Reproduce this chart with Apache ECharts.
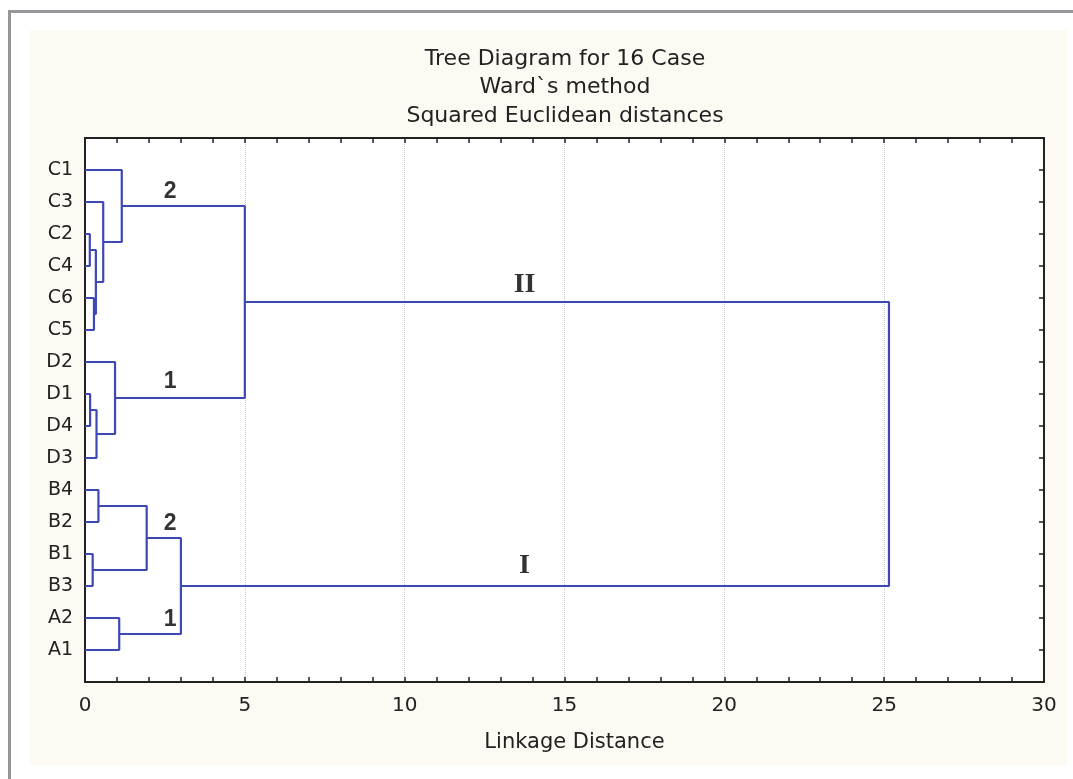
<!DOCTYPE html>
<html>
<head>
<meta charset="utf-8">
<script src="https://cdn.jsdelivr.net/npm/echarts@6/dist/echarts.min.js"></script>
<style>
html,body{margin:0;padding:0;background:#fff;}
#chart{width:1073px;height:779px;}
</style>
</head>
<body>
<div id="chart"></div>
<script>
// Leaves, top to bottom
const leaves = ['C1','C3','C2','C4','C6','C5','D2','D1','D4','D3','B4','B2','B1','B3','A2','A1'];
// Merges (Ward's method): id, left child, right child, linkage distance
const mergeIds    = ['m1','m2','m3','m4','m5','m6','m7','m8','m9','m10','m11','m12','m13','m14','m15'];
const mergeLeft   = ['C2','C6','m1','C3','C1','D1','m6','D2','m5','B4','B1','m10','A2','m12','m9'];
const mergeRight  = ['C4','C5','m2','m3','m4','D4','D3','m7','m8','B2','B3','m11','A1','m13','m14'];
const mergeHeight = [0.15, 0.28, 0.34, 0.57, 1.15, 0.16, 0.36, 0.94, 5.0, 0.42, 0.24, 1.93, 1.07, 3.0, 25.15];
// X axis ticks
const xTicks = [0, 5, 10, 15, 20, 25, 30];
// Cluster annotations: text, distance, row position
const noteText = ['2', '1', '2', '1'];
const noteX    = [2.66, 2.66, 2.66, 2.66];
const noteY    = [1.67, 7.62, 12.05, 15.05];
const romanText = ['II', 'I'];
const romanX    = [13.75, 13.75];
const romanY    = [4.58, 13.38];

// layout of dendrogram nodes
const pos = {};
leaves.forEach((n, i) => { pos[n] = { x: 0, y: i + 1 }; });
const series = [];
mergeIds.forEach((id, i) => {
  const a = pos[mergeLeft[i]], b = pos[mergeRight[i]], h = mergeHeight[i];
  pos[id] = { x: h, y: (a.y + b.y) / 2 };
  series.push({
    type: 'line', silent: true, symbol: 'none', animation: false,
    lineStyle: { color: '#3e48b5', width: 2.2 },
    data: [[a.x, a.y], [h, a.y], [h, b.y], [b.x, b.y]]
  });
});

series.push({
  type: 'scatter', symbolSize: 0, silent: true, animation: false,
  label: { show: true, position: 'inside', formatter: p => p.data[2],
    fontFamily: 'Arial, Liberation Sans, sans-serif', fontWeight: 'bold', fontSize: 23, color: '#000' },
  data: noteText.map((t, i) => [noteX[i], noteY[i], t])
});
series.push({
  type: 'scatter', symbolSize: 0, silent: true, animation: false,
  label: { show: true, position: 'inside', formatter: p => p.data[2],
    fontFamily: 'Liberation Serif, Times New Roman, serif', fontWeight: 'bold', fontSize: 28, color: '#000' },
  data: romanText.map((t, i) => [romanX[i], romanY[i], t])
});

const font = '"DejaVu Sans", Verdana, sans-serif';
const chart = echarts.init(document.getElementById('chart'), null, { renderer: 'canvas' });
chart.setOption({
  backgroundColor: '#ffffff',
  animation: false,
  graphic: [
    { type: 'rect', shape: { x: 30, y: 30, width: 1037, height: 735 }, style: { fill: '#fdf9f3' }, z: -10 },
    { type: 'line', shape: { x1: 9.5, y1: 11.5, x2: 1073, y2: 11.5 }, style: { stroke: '#97979b', lineWidth: 3 }, z: -9 },
    { type: 'line', shape: { x1: 9.5, y1: 10, x2: 9.5, y2: 779 }, style: { stroke: '#97979b', lineWidth: 3 }, z: -9 }
  ],
  title: {
    text: 'Tree Diagram for 16 Case\nWard`s method\nSquared Euclidean distances',
    left: 560, textAlign: 'center', top: 40,
    textStyle: { fontFamily: font, fontWeight: 'normal', fontSize: 22, lineHeight: 28.5, color: '#222' }
  },
  grid: { left: 85, right: 29, top: 138, bottom: 97, show: true, backgroundColor: '#ffffff', borderWidth: 0 },
  xAxis: [
    { type: 'value', min: 0, max: 30, interval: 5, position: 'bottom',
      name: 'Linkage Distance', nameLocation: 'middle', nameGap: 50,
      nameTextStyle: { fontFamily: font, fontSize: 21, color: '#222', padding: [0, 0, 0, 20] },
      axisLine: { show: true, onZero: false, lineStyle: { color: '#222', width: 2 } },
      axisTick: { show: true, inside: true, length: 5, lineStyle: { color: '#222', width: 1.5 } },
      minorTick: { show: true, splitNumber: 5, length: 5, lineStyle: { color: '#222', width: 1.5 } },
      axisLabel: { fontFamily: font, fontSize: 20, color: '#222', margin: 14,
        formatter: v => xTicks.includes(v) ? String(v) : '' },
      splitLine: { show: true, lineStyle: { color: '#c8c8c8', type: 'dotted', width: 1 } }
    },
    { type: 'value', min: 0, max: 30, interval: 5, position: 'top',
      axisLine: { show: true, onZero: false, lineStyle: { color: '#222', width: 2 } },
      axisTick: { show: true, inside: true, length: 5, lineStyle: { color: '#222', width: 1.5 } },
      minorTick: { show: true, splitNumber: 5, length: 5, lineStyle: { color: '#222', width: 1.5 } },
      axisLabel: { show: false }, splitLine: { show: false }
    }
  ],
  yAxis: [
    { type: 'value', min: 0, max: 17, interval: 1, inverse: true, position: 'left',
      axisLine: { show: true, onZero: false, lineStyle: { color: '#222', width: 2 } },
      axisTick: { show: true, inside: true, length: 5, lineStyle: { color: '#222', width: 1.5 } },
      axisLabel: { fontFamily: font, fontSize: 19, color: '#222', margin: 12,
        formatter: v => leaves[v - 1] || '' },
      splitLine: { show: false }
    },
    { type: 'value', min: 0, max: 17, interval: 1, inverse: true, position: 'right',
      axisLine: { show: true, onZero: false, lineStyle: { color: '#222', width: 2 } },
      axisTick: { show: true, inside: true, length: 5, lineStyle: { color: '#222', width: 1.5 } },
      axisLabel: { show: false }, splitLine: { show: false }
    }
  ],
  series: series
});
</script>
</body>
</html>
